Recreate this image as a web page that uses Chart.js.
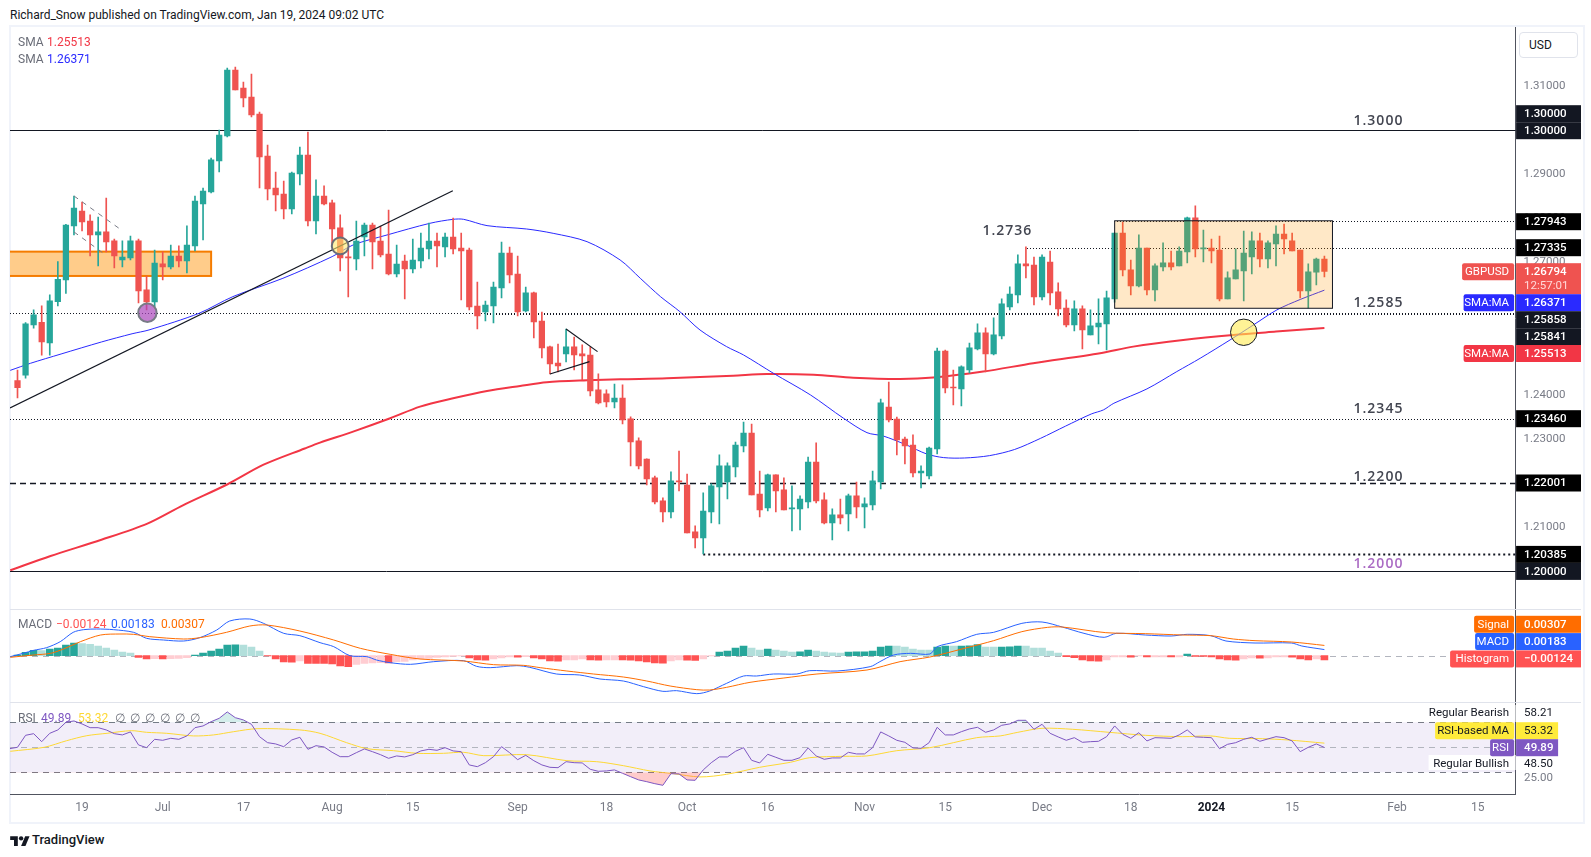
<!DOCTYPE html>
<html>
<head>
<meta charset="utf-8">
<title>GBPUSD</title>
<script src="https://cdn.jsdelivr.net/npm/chart.js@4/dist/chart.umd.js"></script>
<style>
    html, body { margin: 0; padding: 0; background: #fff; width: 1591px; height: 857px; overflow: hidden; font-family: Roboto, sans-serif; color: #131722; }
    canvas { position: absolute; left: 10px; }
    .frame { position: absolute; left: 9px; top: 25px; width: 1572px; height: 795px; border: 2px solid #f0f3fa; }
    .txt { position: absolute; font-size: 12px; line-height: 14px; white-space: nowrap; color: #6a6d78; z-index: 3; }
    .usd { position: absolute; left: 1519px; top: 32px; width: 57px; height: 24px; border: 1px solid #e0e3eb; border-radius: 4px; font-size: 12px; line-height: 24px; text-indent: 9px; background: #fff; z-index: 3; }
    .sep { position: absolute; left: 10px; width: 1571px; height: 1px; background: #e0e3eb; z-index: 2; }
    #logo { position: absolute; left: 10px; top: 834px; }
</style>
</head>
<body>
<div class="txt" style="left:10px;top:8px;color:#131722">Richard_Snow published on TradingView.com, Jan 19, 2024 09:02 UTC</div>
<div class="frame"></div>
<canvas id="priceChart" width="1571" height="582" style="top:27px"></canvas>
<canvas id="macdChart" width="1571" height="93" style="top:609px"></canvas>
<canvas id="rsiChart" width="1571" height="119" style="top:702px"></canvas>
<div class="sep" style="top:609px"></div>
<div class="sep" style="top:702px"></div>
<div class="usd">USD</div>

<div class="txt" style="left:18px;top:35px">SMA</div>
<div class="txt" style="left:47px;top:35px;color:#f23645">1.25513</div>
<div class="txt" style="left:18px;top:52px">SMA</div>
<div class="txt" style="left:47px;top:52px;color:#2a2aff">1.26371</div>

<div class="txt" style="left:18px;top:617px">MACD</div>
<div class="txt" style="left:56px;top:617px;color:#ff5252">−0.00124</div>
<div class="txt" style="left:111px;top:617px;color:#2962ff">0.00183</div>
<div class="txt" style="left:161px;top:617px;color:#ff6d00">0.00307</div>

<div class="txt" style="left:18px;top:711px">RSI</div>
<div class="txt" style="left:41px;top:711px;color:#7e57c2">49.89</div>
<div class="txt" style="left:78px;top:711px;color:#fdd835">53.32</div>
<div class="txt" style="left:115px;top:711px;word-spacing:2px">∅ ∅ ∅ ∅ ∅ ∅</div>

<svg id="logo" width="20" height="12" viewBox="0 0 36 22">
    <path d="M14 22H7V11H0V4h14v18z" fill="#131722"/>
    <circle cx="20" cy="8" r="4" fill="#131722"/>
    <path d="M28 22h-8l7.5-18h8L28 22z" fill="#131722"/>
</svg>
<div class="txt" style="left:32px;top:832px;color:#131722;font-size:13px;line-height:16px;font-weight:500">TradingView</div>

<script>
// Candles, one entry per trading day. Bar index 0 is 19 Jun 2023
const firstIdx = -8;
const opens = [
    1.24325,1.24443,1.25583,1.25644,1.25176,1.26112,1.26603,1.27826,
    1.28165,1.27939,1.27622,1.27690,1.27486,1.27055,1.27101,1.27486,1.26376,1.26104,
    1.26965,1.26897,1.27146,1.27033,1.27373,1.28324,1.28596,1.29298,1.29864,1.31359,
    1.30951,1.30747,1.30362,1.29411,1.28686,1.28550,1.28211,1.29003,1.29434,1.27939,
    1.28505,1.28347,1.27781,1.27123,1.27078,1.27576,1.27848,1.27485,1.27191,1.26738,
    1.27032,1.26851,1.27032,1.27304,1.27485,1.27349,1.27576,1.27327,1.27282,1.26013,
    1.25877,1.26013,1.26421,1.27214,1.26738,1.25900,1.26308,1.25673,1.25085,1.24722,
    1.24926,1.25085,1.24926,1.24903,1.24111,1.24020,1.23839,1.23929,1.23454,1.22955,
    1.22547,1.22117,1.21596,1.21347,1.22049,1.21958,1.20894,1.20758,1.21347,1.21913,
    1.22026,1.22366,1.22842,1.23136,1.21754,1.21437,1.22185,1.21845,1.21415,1.21415,
    1.21573,1.22479,1.21619,1.21098,1.21279,1.21302,1.21709,1.21460,1.21505,1.22026,
    1.23725,1.23453,1.23000,1.22864,1.22230,1.22162,1.22774,1.24993,1.24178,1.24134,
    1.24564,1.25040,1.25402,1.24926,1.25334,1.25991,1.26263,1.26965,1.26942,1.26218,
    1.27010,1.26331,1.25968,1.25583,1.25946,1.25357,1.25538,1.25606,1.26172,1.27667,
    1.26829,1.26467,1.27327,1.26376,1.26897,1.26988,1.26920,1.27237,1.28007,1.27305,
    1.27327,1.27282,1.26172,1.26625,1.26806,1.27123,1.27486,1.27078,1.27418,1.27644,
    1.27486,1.27282,1.26353,1.26776,1.27078
];
const highs = [
    1.24563,1.25636,1.25923,1.26014,1.26263,1.27018,1.27863,1.28505,
    1.28369,1.28075,1.28029,1.28460,1.27531,1.27486,1.27599,1.27531,1.26693,1.27282,
    1.27237,1.27395,1.27373,1.27826,1.28505,1.28686,1.29366,1.30000,1.31404,1.31427,
    1.31087,1.31268,1.30408,1.29660,1.29049,1.28845,1.29049,1.29615,1.29955,1.28868,
    1.28732,1.28414,1.28075,1.27320,1.27938,1.27893,1.27893,1.27825,1.28187,1.27395,
    1.27168,1.27531,1.27667,1.27893,1.27667,1.27667,1.28006,1.27667,1.27327,1.26557,
    1.26126,1.26557,1.27463,1.27349,1.27146,1.26443,1.26330,1.25877,1.25107,1.25152,
    1.25492,1.25311,1.25130,1.25085,1.24473,1.24111,1.24246,1.24224,1.23499,1.23023,
    1.22548,1.22162,1.21664,1.22253,1.22728,1.22207,1.21030,1.21777,1.21981,1.22638,
    1.22457,1.22932,1.23385,1.23340,1.22275,1.22207,1.22185,1.22117,1.21936,1.21709,
    1.22592,1.22910,1.21777,1.21415,1.21641,1.21754,1.22026,1.21664,1.22275,1.23906,
    1.24291,1.23498,1.23045,1.23091,1.22389,1.22819,1.25061,1.25016,1.24563,1.24655,
    1.25175,1.25606,1.25515,1.25742,1.26172,1.26444,1.27169,1.27350,1.27123,1.27169,
    1.27259,1.26535,1.26150,1.26127,1.26014,1.25923,1.26172,1.26353,1.27667,1.27916,
    1.27055,1.27622,1.27327,1.26965,1.27441,1.27259,1.27350,1.28029,1.28279,1.27735,
    1.27531,1.27599,1.26784,1.27305,1.27712,1.27690,1.27667,1.27486,1.27826,1.27871,
    1.27667,1.27282,1.26965,1.27100,1.27146
];
const lows = [
    1.23928,1.24380,1.25510,1.24900,1.24900,1.26014,1.26300,1.27622,
    1.27712,1.27146,1.26920,1.27237,1.26874,1.26897,1.27055,1.26082,1.25923,1.25998,
    1.26603,1.26852,1.26897,1.26761,1.27260,1.27509,1.28573,1.29049,1.29841,1.30906,
    1.30521,1.30294,1.28686,1.28414,1.28165,1.27984,1.28097,1.28754,1.27826,1.27644,
    1.28301,1.27395,1.26806,1.26218,1.26829,1.27146,1.26851,1.27123,1.26715,1.26670,
    1.26172,1.26761,1.26874,1.27078,1.26896,1.27123,1.27191,1.26149,1.25922,1.25492,
    1.25673,1.25628,1.26194,1.26534,1.25787,1.25877,1.25288,1.24835,1.24473,1.24518,
    1.24745,1.24564,1.24337,1.23975,1.23793,1.23725,1.23703,1.23340,1.22389,1.22321,
    1.21958,1.21528,1.21120,1.21211,1.21822,1.20871,1.20531,1.20395,1.21098,1.21075,
    1.21641,1.22139,1.22705,1.21732,1.21234,1.21369,1.21347,1.21392,1.20916,1.20939,
    1.21437,1.21551,1.21075,1.20712,1.21075,1.20916,1.21211,1.20985,1.21392,1.21868,
    1.23385,1.22638,1.22434,1.22139,1.21890,1.22094,1.22660,1.24042,1.23770,1.23749,
    1.24496,1.25017,1.24519,1.24904,1.25266,1.25923,1.26082,1.26648,1.26036,1.26150,
    1.26036,1.25787,1.25538,1.25447,1.25040,1.25357,1.25153,1.25017,1.26100,1.26693,
    1.26263,1.26444,1.26263,1.26127,1.26806,1.26829,1.26920,1.26988,1.27123,1.27010,
    1.26988,1.26127,1.26172,1.26625,1.26127,1.26738,1.26897,1.26874,1.26920,1.27191,
    1.27259,1.26195,1.25968,1.26489,1.26670
];
const closes = [
    1.24164,1.25606,1.25810,1.25200,1.26127,1.26618,1.27848,1.28233,
    1.27916,1.27622,1.27690,1.27463,1.27146,1.27123,1.27486,1.26353,1.26104,1.26987,
    1.26897,1.27146,1.27033,1.27395,1.28392,1.28618,1.29321,1.29887,1.31359,1.30906,
    1.30725,1.30340,1.29388,1.28664,1.28528,1.28211,1.29026,1.29434,1.27939,1.28505,
    1.28324,1.27758,1.27101,1.27101,1.27485,1.27848,1.27463,1.27168,1.26738,1.26964,
    1.26851,1.27055,1.27327,1.27485,1.27372,1.27576,1.27304,1.27259,1.25990,1.25787,
    1.26036,1.26443,1.27214,1.26715,1.25877,1.26308,1.25651,1.25062,1.24700,1.24654,
    1.25085,1.24903,1.24881,1.24088,1.23816,1.23839,1.23929,1.23431,1.22933,1.22389,
    1.22094,1.21573,1.21347,1.22049,1.22026,1.20871,1.20758,1.21369,1.21936,1.22389,
    1.22389,1.22864,1.23136,1.21732,1.21392,1.22185,1.21822,1.21392,1.21437,1.21641,
    1.22479,1.21596,1.21098,1.21279,1.21211,1.21709,1.21460,1.21528,1.22049,1.23816,
    1.23431,1.22977,1.22842,1.22230,1.22275,1.22796,1.24993,1.24155,1.24155,1.24632,
    1.25062,1.25402,1.24926,1.25357,1.26059,1.26285,1.26965,1.26920,1.26218,1.27123,
    1.26308,1.25946,1.25583,1.25946,1.25470,1.25561,1.25628,1.26195,1.27667,1.26829,
    1.26467,1.27327,1.26376,1.26920,1.26988,1.26897,1.27259,1.28007,1.27305,1.27327,
    1.27259,1.26172,1.26648,1.26829,1.27214,1.27486,1.27078,1.27441,1.27644,1.27531,
    1.27259,1.26353,1.26784,1.27078,1.26794
];

// Moving averages at these bar indexes
const sma200Idx = [-8.9,-3.9,2.4,8.1,12.5,18.1,22.5,27.6,29.5,33.6,38.2,41.9,46,50.2,54.3,57.6,62.6,66.7,72.5,80.7,84.9,90.7,95.6,101.4,105.5,111.7,117.9,126.2,130.3,136.5,142.7,148,154];
const sma200 = [1.20025,1.20349,1.20716,1.21083,1.21497,1.21980,1.22417,1.22785,1.22918,1.23167,1.23469,1.23733,1.23922,1.24088,1.24201,1.24284,1.24329,1.24352,1.24374,1.24435,1.24472,1.24457,1.24389,1.24360,1.24390,1.24526,1.24715,1.24941,1.25092,1.25243,1.25357,1.25432,1.25513];
const sma50Idx = [-8.9,-6.4,-2.6,2.4,6.2,8.3,14.5,18.7,24.9,31,33.6,37.8,43.1,46,47.3,50.2,55.1,58.4,62.6,66.7,69.2,71.7,74.1,76.6,79.9,82,85.7,90.3,94.4,97.3,99.3,102.2,104.7,106.8,109.4,112.5,115.6,118.8,121.9,125.1,126.6,127.9,132,135.7,138.6,142.3,145.2,148.1,151,154];
const sma50 = [1.24554,1.24714,1.24925,1.25197,1.25383,1.25470,1.25847,1.26225,1.26640,1.27131,1.27395,1.27621,1.27885,1.27976,1.27976,1.27833,1.27757,1.27659,1.27470,1.27055,1.26640,1.26225,1.25885,1.25469,1.25092,1.24903,1.24488,1.23997,1.23468,1.23143,1.23068,1.22864,1.22660,1.22578,1.22569,1.22623,1.22762,1.23013,1.23290,1.23566,1.23658,1.23809,1.24134,1.24526,1.24828,1.25243,1.25583,1.25923,1.26160,1.26371];

// Horizontal levels on the price pane
const levelValues = [1.30000, 1.27943, 1.27335, 1.25858, 1.25841, 1.23460, 1.22001, 1.20385, 1.20000];
const levelStarts = [-9, 128, 117, -9, 50, -9, -9, 77, -9];
const levelStyles = ['solid', 'dot', 'dot', 'dot', 'dot', 'dot', 'dash', 'bigdot', 'solid'];
const levelTexts = ['1.3000', '1.2736', '1.2585', '1.2345', '1.2200', '1.2000'];
const levelTextValues = [1.30197, 1.27710, 1.26090, 1.23679, 1.22133, 1.20166];
const levelTextIdx = [160.7, 114.7, 160.7, 160.7, 160.7, 160.7];

const priceTicks = [1.31, 1.30, 1.29, 1.28, 1.27, 1.26, 1.25, 1.24, 1.23, 1.22, 1.21, 1.20];

// MACD pane
const macdIdx = [-8.9,-7.3,-6,-4.4,-2.7,-1.1,.2,1.8,3.9,6.4,8,10.1,12.6,14.6,16.7,18.3,20.8,22.5,25,27,29.5,31.2,33.2,35.3,36.5,38.2,40.7,43.6,47.3,48.9,50.6,53.9,55.5,58.8,61.7,64.2,67.1,69.6,72,73.7,76.2,77.8,79.9,82,83.6,85.7,88.6,90.2,93.6,97.7,98.9,100.6,102.7,105.1,106,108.4,110.9,113,116.5,119,121.5,124.2,126.7,128.2,131.8,135,137,139.9,141.8,145.4,149.9,151.2,154];
const macdLine = [-.0003,.0007,.0016,.0024,.0042,.0070,.0078,.0080,.0078,.0070,.0052,.0047,.0044,.0054,.0077,.0104,.0110,.0097,.0067,.0060,.0039,.0027,0,-.0003,-.0013,-.0021,-.0026,-.0018,-.0015,-.0032,-.0036,-.0030,-.0035,-.0055,-.0058,-.0070,-.0076,-.0093,-.0107,-.0105,-.0114,-.0106,-.0083,-.0061,-.0061,-.0055,-.0055,-.0045,-.0046,-.0033,-.0018,.0002,.0007,.0005,.0027,.0042,.0064,.0070,.0097,.0101,.0086,.0067,.0055,.0067,.0062,.0059,.0064,.0060,.0044,.0038,.0038,.0029,.00183];
const signalIdx = [-8.9,-6,-3.9,-2.3,-.2,2.3,4.7,6.4,8.4,12.6,14.6,17.9,20.8,22.9,27,31.2,34.5,38.2,41.9,47.3,51,54.7,56.8,60.1,63.4,67.1,70,72.9,76.2,77.8,79.9,82.8,87,91.1,97.3,101.4,105.1,109.7,113,116.5,119.7,121.5,126.9,131.8,136.4,139.9,142.7,145.4,149.9,154];
const signalLine = [-.0005,.0002,.0007,.0020,.0042,.0062,.0065,.0064,.0057,.0050,.0054,.0070,.0089,.0092,.0074,.0047,.0022,.0004,-.0010,-.0016,-.0027,-.0029,-.0036,-.0046,-.0055,-.0064,-.0076,-.0091,-.0102,-.0103,-.0095,-.0080,-.0067,-.0055,-.0043,-.0018,-.0004,.0024,.0045,.0072,.0085,.0086,.0069,.0066,.0062,.0060,.0050,.0045,.0041,.00307];
// histogram in units of 0.0001, first bar is firstIdx
const histogram = [
    2,10,16,15.5,20,23,32,38,
    36,34,29,23,17,11,8,-5,-10,-9,-10,-9,-8.5,-6,2,8,14,20,32,32.5,32,26,14,-1,-10,-19,-19.5,-16,
    -23,-23.2,-23.4,-25,-31,-33,-26,-23,-22,-21,-21.5,-18,-17.5,-13,-10,-8,-5,-4,-2,-1,-7,-13,-13.5,-10,-7,-4,-4.5,
    -3,-7,-10,-16,-16.5,-13,-12.5,-10,-13,-13.5,-13,-12.5,-13,-13.5,-16,-19,-22,-22.5,-16,-13,-13.5,-14,-10,-1,
    11,14,23,29,23,17,20,17,14,11,11.5,17,14,11,8.5,8,11,11.2,11.4,14,26,29,28.8,26,20,17,16.8,26,29,28.8,29,29.2,33,26,25.8,26,26.2,29,
    28.8,23,22.8,14,8,-3,-6,-13,-16,-16.5,-13,-4,-3.8,-4.5,-1,-4,-3.8,-3.6,-4,-3.8,5,-2,-2.2,-4,-10,-13,-13.5,-10,-7,-7.5,-7,-4,-3.8,-4.5,-10,-13,-10,-12.4
];

// RSI pane, first value is bar -9
const rsiValues = [
    48.9,50.0,59.6,60.9,54.5,61.2,63.9,70.0,71.1,
    68.7,65.7,65.7,63.9,60.9,59.9,62.3,51.9,49.7,56.4,55.6,57.2,56.4,59.1,65.7,67.1,70.5,73.2,78.3,73.7,71.9,68.4,58.5,53.7,52.7,50.5,55.9,58.0,48.4,51.3,50.3,46.0,42.5,42.5,45.7,48.7,46.5,44.1,41.2,43.1,42.3,44.1,47.1,48.4,47.6,49.7,47.1,46.5,35.9,34.5,37.7,42.5,50.5,45.7,40.1,
    43.6,39.3,35.9,34.0,33.7,38.5,37.7,37.5,32.4,30.8,31.1,31.9,29.2,26.5,23.9,22.5,20.9,19.6,28.9,28.7,23.9,23.6,31.9,37.7,42.3,42.3,46.8,49.7,39.6,37.5,44.4,42.0,39.6,39.6,41.7,49.5,43.1,40.4,41.5,41.5,46.0,44.7,44.7,49.7,62.3,59.1,55.6,54.0,49.5,49.2,53.7,66.0,59.9,59.9,62.5,64.7,66.0,62.0,63.9,67.6,68.7,71.6,
    71.6,64.4,68.4,61.2,58.3,55.6,57.7,54.0,54.5,54.8,58.5,67.1,60.4,57.2,61.7,55.1,57.7,57.5,57.2,59.9,63.9,58.3,58.0,57.7,48.9,52.4,53.7,56.4,58.0,54.8,56.7,58.5,57.7,55.1,46.5,50.0,52.7,49.89
];
const rsiMaIdx = [-8.9,-4.7,-1.9,.6,3.1,6.1,8,10.5,13.8,16.3,18.8,21.7,27,29.5,32.8,35.3,38.6,41.5,44.8,47.3,49.8,55.1,60.1,63.8,67.1,70.4,73.3,76.6,79.9,84,87.8,90.2,94.4,97.3,101,105.1,110.9,113.8,116,119,122.8,127.3,131.8,136.4,139.9,142.2,146.3,149.4,154];
const rsiMa = [46.8,50,55.3,59.3,61.2,63.3,62,61.2,59.1,59.9,62.5,64.9,63.9,61.2,53.7,48.9,47.3,45.2,45.2,46,43.3,44.1,39.3,38.5,35.3,31.1,28.9,26.3,28.4,34,38,41.7,42.8,43.1,47.3,49.7,57.7,59.1,62,65.2,64.4,62,59.6,58.5,59.1,57.2,56.9,55.9,53.32];

// Time axis
const timeTickIdx = [0, 10, 20, 31, 41, 54, 65, 75, 85, 97, 107, 119, 130, 140, 150, 163, 173];
const timeTickLabels = ['19', 'Jul', '17', 'Aug', '15', 'Sep', '18', 'Oct', '16', 'Nov', '15', 'Dec', '18', '2024', '15', 'Feb', '15'];

const xMin = -8.93;
const xMax = 177.7;
const axisWidth = 65.4;
const upColor = '#26a69a';
const downColor = '#ef5350';
const labelFont = 'Roboto, sans-serif';

const pairs = (xs, ys) => xs.map((x, i) => ({ x: x, y: ys[i] }));
const barIdx = (k) => firstIdx + k;

function xAxis(show) {
    return {
        type: 'linear',
        display: show,
        min: xMin,
        max: xMax,
        offset: false,
        grid: { display: false, offset: false, drawTicks: false },
        border: { display: show, color: '#50535e' },
        afterBuildTicks: (scale) => { scale.ticks = timeTickIdx.map((v) => ({ value: v })); },
        afterFit: (scale) => {
            if (show) scale.height = 27;
            scale.paddingLeft = 0;
            scale.paddingRight = 0;
        },
        ticks: {
            autoSkip: false,
            maxRotation: 0,
            padding: 7,
            color: (ctx) => ctx.tick && ctx.tick.value === 140 ? '#131722' : '#787b86',
            font: (ctx) => ({ family: labelFont, size: 12, weight: ctx.tick && ctx.tick.value === 140 ? 'bold' : 'normal' }),
            callback: (value) => timeTickLabels[timeTickIdx.indexOf(value)]
        }
    };
}

function yAxis(min, max, ticks, digits) {
    return {
        position: 'right',
        min: min,
        max: max,
        beginAtZero: false,
        grid: { display: false, drawTicks: false },
        border: { display: true, color: '#50535e' },
        afterBuildTicks: (scale) => { scale.ticks = ticks.map((v) => ({ value: v })); },
        afterFit: (scale) => {
            scale.width = axisWidth;
            scale.paddingTop = 0;
            scale.paddingBottom = 0;
        },
        ticks: {
            autoSkip: false,
            padding: 8,
            color: '#787b86',
            font: { family: labelFont, size: 11.5 },
            callback: (value) => value.toFixed(digits)
        }
    };
}

// Small helpers for drawings
function hline(ctx, chart, value, start, style) {
    const area = chart.chartArea;
    const y = Math.round(chart.scales.y.getPixelForValue(value)) + 0.5;
    const x0 = Math.max(area.left, chart.scales.x.getPixelForValue(start));
    ctx.save();
    ctx.strokeStyle = '#131722';
    ctx.lineWidth = 1;
    if (style === 'dot') { ctx.setLineDash([1, 2]); ctx.lineDashOffset = x0 % 3; }
    if (style === 'dash') { ctx.setLineDash([6, 4]); ctx.lineWidth = 1.4; }
    if (style === 'bigdot') { ctx.setLineDash([2, 3]); ctx.lineWidth = 2; }
    ctx.beginPath();
    ctx.moveTo(x0, y);
    ctx.lineTo(area.right, y);
    ctx.stroke();
    ctx.restore();
}

function segment(ctx, chart, a, b, color, width, dash) {
    const sx = chart.scales.x, sy = chart.scales.y;
    ctx.save();
    ctx.strokeStyle = color;
    ctx.lineWidth = width;
    ctx.setLineDash(dash || []);
    ctx.beginPath();
    ctx.moveTo(sx.getPixelForValue(a[0]), sy.getPixelForValue(a[1]));
    ctx.lineTo(sx.getPixelForValue(b[0]), sy.getPixelForValue(b[1]));
    ctx.stroke();
    ctx.restore();
}

function marker(ctx, chart, pos, r, fill, stroke, width) {
    ctx.save();
    ctx.beginPath();
    ctx.arc(chart.scales.x.getPixelForValue(pos[0]), chart.scales.y.getPixelForValue(pos[1]), r, 0, Math.PI * 2);
    ctx.fillStyle = fill;
    ctx.fill();
    ctx.strokeStyle = stroke;
    ctx.lineWidth = width;
    ctx.stroke();
    ctx.restore();
}

function priceBox(ctx, chart, i0, i1, top, bottom, fill, stroke, width) {
    const sx = chart.scales.x, sy = chart.scales.y;
    const x0 = sx.getPixelForValue(i0);
    const x1 = sx.getPixelForValue(i1);
    const y0 = sy.getPixelForValue(top), y1 = sy.getPixelForValue(bottom);
    ctx.save();
    ctx.fillStyle = fill;
    ctx.fillRect(x0, y0, x1 - x0, y1 - y0);
    ctx.strokeStyle = stroke;
    ctx.lineWidth = width;
    ctx.strokeRect(x0, y0, x1 - x0, y1 - y0);
    ctx.restore();
}

// one line of text on a coloured box, the box spans x0..x1 around y
function tag(ctx, x0, x1, y, h, bg, text, color, textX, bold) {
    ctx.save();
    if (bg) {
        ctx.fillStyle = bg;
        ctx.fillRect(x0, y - h / 2, x1 - x0, h);
    }
    ctx.fillStyle = color;
    ctx.font = (bold ? '500 ' : '') + '11.5px ' + labelFont;
    ctx.textBaseline = 'middle';
    ctx.textAlign = 'left';
    ctx.fillText(text, textX, y + 0.5);
    ctx.restore();
}

// right aligned pane label next to the axis
function sideTag(ctx, chart, y, h, bg, text, color, w) {
    const right = chart.chartArea.right - 1.5;
    ctx.save();
    if (bg) {
        ctx.fillStyle = bg;
        ctx.beginPath();
        ctx.roundRect(right - w, y - h / 2, w, h, 2);
        ctx.fill();
    }
    ctx.fillStyle = color;
    ctx.font = '11.5px ' + labelFont;
    ctx.textBaseline = 'middle';
    ctx.textAlign = 'right';
    ctx.fillText(text, right - 5, y + 0.5);
    ctx.restore();
}

const underPrice = {
    id: 'underPrice',
    beforeDatasetsDraw(chart) {
        const ctx = chart.ctx;
        // zone runs off the left edge of the pane, so no left border shows
        priceBox(ctx, chart, -10, 16, 1.27244, 1.26693, '#ffcc8a', '#f57c00', 2);
        levelValues.forEach((v, i) => hline(ctx, chart, v, levelStarts[i], levelStyles[i]));
    }
};

const overPrice = {
    id: 'overPrice',
    afterDatasetsDraw(chart) {
        const ctx = chart.ctx;
        const area = chart.chartArea;
        const sx = chart.scales.x, sy = chart.scales.y;

        // range box
        priceBox(ctx, chart, 128, 155, 1.27943, 1.25961, 'rgba(255,152,0,0.22)', '#131722', 1);

        // trend line and flags
        segment(ctx, chart, [-8.93, 1.23702], [45.96, 1.28625], '#131722', 1.2);
        segment(ctx, chart, [60, 1.25492], [63.9, 1.24979], '#131722', 1.2);
        segment(ctx, chart, [58, 1.24473], [62.9, 1.24752], '#131722', 1.2);
        segment(ctx, chart, [-1, 1.28505], [5.04, 1.27712], '#787b86', 1, [5, 5]);
        segment(ctx, chart, [-1, 1.27690], [2.77, 1.27191], '#787b86', 1, [5, 5]);

        // circles
        marker(ctx, chart, [8.1, 1.2586], 9.2, 'rgba(171,71,188,0.7)', '#787b86', 2);
        marker(ctx, chart, [32, 1.27373], 8.4, 'rgba(255,235,110,0.6)', '#6a6d78', 2);
        marker(ctx, chart, [144, 1.25417], 13.2, 'rgba(255,235,80,0.6)', '#131722', 1);

        // level captions
        ctx.save();
        ctx.font = '600 14px "Open Sans", sans-serif';
        ctx.letterSpacing = '1px';
        ctx.textAlign = 'center';
        ctx.textBaseline = 'middle';
        levelTexts.forEach((t, i) => {
            ctx.fillStyle = t === '1.2000' ? '#ab6cc4' : '#434651';
            ctx.fillText(t, sx.getPixelForValue(levelTextIdx[i]), sy.getPixelForValue(levelTextValues[i]));
        });
        ctx.restore();

        // axis tags, stacked so they sit apart from their price
        const x0 = area.right + 0.5, x1 = chart.width, tx = x0 + 8;
        const top = 27;
        tag(ctx, x0, x1, 113.7 - top, 17, '#131722', '1.30000', '#fff', tx, true);
        tag(ctx, x0, x1, 130.7 - top, 17, '#131722', '1.30000', '#fff', tx, true);
        tag(ctx, x0, x1, 221.7 - top, 17, '#000000', '1.27943', '#fff', tx, true);
        tag(ctx, x0, x1, 247.7 - top, 17, '#000000', '1.27335', '#fff', tx, true);
        ctx.fillStyle = '#ef5350';
        ctx.fillRect(x0, 263.2 - top, x1 - x0, 31);
        tag(ctx, x0, x1, 271.7 - top, 17, null, '1.26794', '#fff', tx, true);
        tag(ctx, x0, x1, 285.7 - top, 14, null, '12:57:01', '#ffd9d8', tx, false);
        tag(ctx, x0, x1, 302.7 - top, 17, '#2a2aff', '1.26371', '#fff', tx, true);
        tag(ctx, x0, x1, 319.7 - top, 17, '#131722', '1.25858', '#fff', tx, true);
        tag(ctx, x0, x1, 336.7 - top, 17, '#131722', '1.25841', '#fff', tx, true);
        tag(ctx, x0, x1, 353.5 - top, 17, '#f23645', '1.25513', '#fff', tx, true);
        tag(ctx, x0, x1, 418.7 - top, 17, '#000000', '1.23460', '#fff', tx, true);
        tag(ctx, x0, x1, 483 - top, 17, '#000000', '1.22001', '#fff', tx, true);
        tag(ctx, x0, x1, 554.4 - top, 17, '#000000', '1.20385', '#fff', tx, true);
        tag(ctx, x0, x1, 571.4 - top, 17, '#131722', '1.20000', '#fff', tx, true);
        sideTag(ctx, chart, 271.7 - top, 17, '#ef5350', 'GBPUSD', '#fff', 52);
        sideTag(ctx, chart, 302.7 - top, 17, '#2a2aff', 'SMA:MA', '#fff', 50.5);
        sideTag(ctx, chart, 353.5 - top, 17, '#f23645', 'SMA:MA', '#fff', 50.5);
    }
};

const macdDeco = {
    id: 'macdDeco',
    beforeDatasetsDraw(chart) {
        const ctx = chart.ctx, a = chart.chartArea;
        const y = Math.round(chart.scales.y.getPixelForValue(0)) + 0.5;
        ctx.save();
        ctx.strokeStyle = '#b2b5be';
        ctx.setLineDash([6, 5]);
        ctx.beginPath();
        ctx.moveTo(a.left, y);
        ctx.lineTo(a.right, y);
        ctx.stroke();
        ctx.restore();
    },
    afterDatasetsDraw(chart) {
        const ctx = chart.ctx, a = chart.chartArea;
        const x0 = a.right + 0.5, x1 = chart.width, tx = x0 + 8;
        const topOffset = 15.3;
        tag(ctx, x0, x1, topOffset, 17, '#ff6d00', '0.00307', '#fff', tx, true);
        tag(ctx, x0, x1, topOffset + 17.3, 17, '#2962ff', '0.00183', '#fff', tx, true);
        tag(ctx, x0, x1, topOffset + 34.6, 17, '#ff5252', '−0.00124', '#fff', tx, true);
        sideTag(ctx, chart, topOffset, 17, '#ff6d00', 'Signal', '#fff', 40);
        sideTag(ctx, chart, topOffset + 17.3, 17, '#2962ff', 'MACD', '#fff', 39);
        sideTag(ctx, chart, topOffset + 34.6, 17, '#ff5252', 'Histogram', '#fff', 64);
    }
};

const rsiDeco = {
    id: 'rsiDeco',
    beforeDatasetsDraw(chart) {
        const ctx = chart.ctx, a = chart.chartArea;
        const sy = chart.scales.y;
        const top = sy.getPixelForValue(70), bot = sy.getPixelForValue(30), mid = sy.getPixelForValue(50);
        ctx.save();
        ctx.fillStyle = 'rgba(126,87,194,0.1)';
        ctx.fillRect(a.left, top, a.width, bot - top);
        ctx.setLineDash([6, 5]);
        ctx.strokeStyle = '#787b86';
        [top, bot].forEach((y) => {
            ctx.beginPath();
            ctx.moveTo(a.left, Math.round(y) + 0.5);
            ctx.lineTo(a.right, Math.round(y) + 0.5);
            ctx.stroke();
        });
        ctx.strokeStyle = '#b2b5be';
        ctx.beginPath();
        ctx.moveTo(a.left, Math.round(mid) + 0.5);
        ctx.lineTo(a.right, Math.round(mid) + 0.5);
        ctx.stroke();
        ctx.restore();
    },
    afterDatasetsDraw(chart) {
        const ctx = chart.ctx, a = chart.chartArea;
        const x0 = a.right + 0.5, x1 = x0 + 42, tx = x0 + 8;
        // white plates behind the divergence captions
        ctx.fillStyle = '#fff';
        ctx.fillRect(a.right - 87, 3, 87, 17);
        ctx.fillRect(a.right - 87, 53, 87, 15);
        sideTag(ctx, chart, 11, 16, null, 'Regular Bearish', '#131722', 85);
        tag(ctx, x0, x1, 11, 16, null, '58.21', '#131722', tx, false);
        sideTag(ctx, chart, 28.7, 17, '#ffeb3b', 'RSI-based MA', '#131722', 79);
        tag(ctx, x0, x1, 28.7, 17, '#ffeb3b', '53.32', '#131722', tx, false);
        sideTag(ctx, chart, 45.7, 17, '#7e57c2', 'RSI', '#fff', 24);
        tag(ctx, x0, x1, 45.7, 17, '#7e57c2', '49.89', '#fff', tx, true);
        sideTag(ctx, chart, 61.7, 16, null, 'Regular Bullish', '#131722', 85);
        tag(ctx, x0, x1, 61.7, 16, null, '48.50', '#131722', tx, false);
        tag(ctx, x0, x1, 75.7, 14, null, '25.00', '#787b86', tx, false);
    }
};

const baseOptions = {
    responsive: false,
    devicePixelRatio: 1,
    animation: false,
    events: [],
    layout: { padding: 0, autoPadding: false },
    plugins: { legend: { display: false }, tooltip: { enabled: false } }
};

// Price pane
new Chart(document.getElementById('priceChart'), {
    type: 'bar',
    data: {
        datasets: [
            {
                type: 'line', order: 4, label: 'SMA 200',
                data: pairs(sma200Idx, sma200),
                borderColor: '#f23645', borderWidth: 2, pointRadius: 0, tension: 0.3
            },
            {
                type: 'line', order: 3, label: 'SMA 50',
                data: pairs(sma50Idx, sma50),
                borderColor: '#2a2aff', borderWidth: 1, pointRadius: 0, tension: 0.3
            },
            {
                order: 2, label: 'wicks', grouped: false, barThickness: 1,
                data: lows.map((l, k) => ({ x: barIdx(k), y: [l, highs[k]] })),
                backgroundColor: (c) => closes[c.dataIndex] >= opens[c.dataIndex] ? upColor : downColor
            },
            {
                order: 1, label: 'GBPUSD', grouped: false, barThickness: 5.6, minBarLength: 1,
                data: opens.map((o, k) => ({ x: barIdx(k), y: [o, closes[k]] })),
                backgroundColor: (c) => closes[c.dataIndex] >= opens[c.dataIndex] ? upColor : downColor
            }
        ]
    },
    options: Object.assign({}, baseOptions, {
        scales: { x: xAxis(false), y: yAxis(1.19148, 1.32333, priceTicks, 5) }
    }),
    plugins: [underPrice, overPrice]
});

// MACD pane
new Chart(document.getElementById('macdChart'), {
    type: 'bar',
    data: {
        datasets: [
            {
                type: 'line', order: 1, label: 'MACD',
                data: pairs(macdIdx, macdLine),
                borderColor: '#2962ff', borderWidth: 1, pointRadius: 0, tension: 0.3
            },
            {
                type: 'line', order: 0, label: 'Signal',
                data: pairs(signalIdx, signalLine),
                borderColor: '#ff6d00', borderWidth: 1, pointRadius: 0, tension: 0.3
            },
            {
                order: 2, label: 'Histogram', barThickness: 7,
                data: histogram.map((h, k) => ({ x: barIdx(k), y: h / 10000 })),
                backgroundColor: (c) => {
                    const cur = histogram[c.dataIndex];
                    const prev = c.dataIndex > 0 ? histogram[c.dataIndex - 1] : 0;
                    if (cur >= 0) return cur >= prev ? '#26a69a' : '#b2dfdb';
                    return cur < prev ? '#ff5252' : '#ffcdd2';
                }
            }
        ]
    },
    options: Object.assign({}, baseOptions, {
        scales: { x: xAxis(false), y: yAxis(-0.0139, 0.0140, [], 5) }
    }),
    plugins: [macdDeco]
});

// RSI pane
const rsiPoints = rsiValues.map((v, k) => ({ x: k - 9, y: v }));
new Chart(document.getElementById('rsiChart'), {
    type: 'line',
    data: {
        datasets: [
            {
                label: 'RSI-based MA', order: 2,
                data: pairs(rsiMaIdx, rsiMa),
                borderColor: '#fdd835', borderWidth: 1, pointRadius: 0, tension: 0.3
            },
            {
                label: 'RSI', order: 1,
                data: rsiPoints,
                borderColor: '#7e57c2', borderWidth: 1, pointRadius: 0,
                fill: { value: 30, above: 'transparent', below: 'rgba(255,82,82,0.3)' }
            },
            {
                label: 'RSI overbought', order: 3,
                data: rsiPoints,
                borderWidth: 0, pointRadius: 0,
                fill: { value: 70, above: 'rgba(38,166,154,0.2)', below: 'transparent' }
            }
        ]
    },
    options: Object.assign({}, baseOptions, {
        scales: { x: xAxis(true), y: yAxis(12.64, 86.24, [], 2) }
    }),
    plugins: [rsiDeco]
});
</script>
</body>
</html>
